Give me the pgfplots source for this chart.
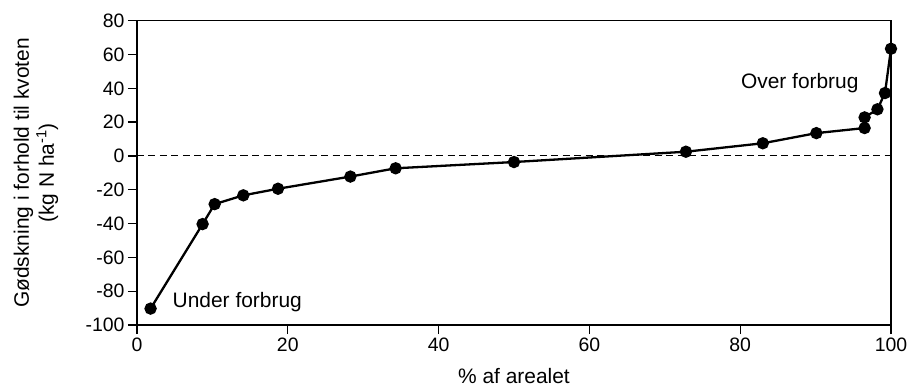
\documentclass[border=0pt]{standalone}
\usepackage{fontspec}
\setmainfont{Liberation Sans}
\usepackage{pgfplots}
\pgfplotsset{compat=1.18}
\begin{document}
\begin{tikzpicture}[x=1bp,y=1bp]
\begin{axis}[
  scale only axis,
  width=754bp, height=304.3bp,
  xmin=0, xmax=100, ymin=-100, ymax=80,
  xtick={0,20,...,100}, ytick={-100,-80,...,80},
  xtick pos=bottom, ytick pos=left,
  tick align=outside,
  major tick length=9bp,
  axis line style={line width=1.3bp},
  every tick/.style={line width=1.3bp, black},
  /pgf/number format/assume math mode=true,
  ticklabel style={font=\fontsize{19.5}{23}\selectfont},
  label style={font=\fontsize{21}{25}\selectfont},
  xlabel={\% af arealet},
  xlabel style={at={(axis description cs:0.5,-0.168)}, anchor=center},
  ylabel={Gødskning i forhold til kvoten\\(kg N ha\textsuperscript{-1})},
  ylabel style={align=center, at={(axis description cs:-0.134,0.5)}, anchor=center},
  clip=false,
]
\coordinate (bl) at (rel axis cs:0,0);
\coordinate (tr) at (rel axis cs:1,1);
\addplot[black, line width=0.9bp, dash pattern=on 7bp off 4.5bp] coordinates {(0,0) (100,0)};
\addplot[black, line width=2.3bp, mark=*, mark size=5bp, mark options={solid}] coordinates {
  (1.8,-90.3) (8.7,-40.3) (10.3,-28.5) (14.1,-23.3) (18.7,-19.4) (28.3,-12.2)
  (34.3,-7.3) (50.0,-3.6) (72.8,2.5) (83.0,7.5) (90.1,13.5) (96.5,16.5)
  (96.5,22.8) (98.2,27.6) (99.2,37.2) (100,63.4)
};
\node[anchor=base, font=\fontsize{21}{25}\selectfont] at (axis cs:13.3,-89.6) {Under forbrug};
\node[anchor=base, font=\fontsize{21}{25}\selectfont] at (axis cs:87.9,40.0) {Over forbrug};
\end{axis}
\pgfresetboundingbox
\path[use as bounding box] ([shift={(-137bp,-62bp)}]bl) rectangle ([shift={(18bp,20.7bp)}]tr);
\end{tikzpicture}
\end{document}
